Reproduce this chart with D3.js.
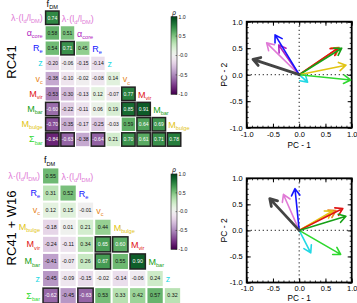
<!DOCTYPE html>
<html>
<head>
<meta charset="utf-8">
<script src="https://cdn.jsdelivr.net/npm/d3@7"></script>
<style>
  body { margin: 0; background: #fff; }
  svg { display: block; font-family: "Liberation Sans", Arial, sans-serif; }
</style>
</head>
<body>
<svg id="chart" width="357" height="303"></svg>
<script>
// ---- data ----
const topVars = ["fDM", "lam", "acore", "Re", "z", "Vc", "Mvir", "Mbar", "Mbulge", "Sbar"];
const topRho = [
  [0.74],
  [0.58, 0.51],
  [0.54, 0.71, 0.45],
  [-0.20, -0.06, -0.15, -0.14],
  [-0.38, -0.10, -0.02, -0.08, 0.14],
  [-0.53, -0.30, -0.13, 0.12, -0.07, 0.77],
  [-0.60, -0.22, -0.11, 0.06, 0.19, 0.85, 0.91],
  [-0.70, -0.35, -0.17, -0.25, -0.03, 0.59, 0.64, 0.69],
  [-0.84, -0.63, -0.38, -0.64, 0.21, 0.70, 0.61, 0.71, 0.78]
];
const topPC1 = [-0.88, -0.62, -0.39, -0.46, 0.16, 0.76, 0.74, 0.81, 0.89, 0.98];
const topPC2 = [0.29, 0.60, 0.56, 0.75, -0.14, 0.51, 0.50, 0.50, 0.18, -0.10];

const botVars = ["fDM", "lam", "Re", "Vc", "Mbulge", "Mvir", "Mbar", "z", "Sbar"];
const botRho = [
  [0.55],
  [0.31, 0.52],
  [0.12, 0.15, -0.01],
  [-0.18, 0.01, 0.21, 0.44],
  [-0.24, -0.11, 0.34, 0.65, 0.60],
  [-0.41, -0.07, 0.26, 0.67, 0.55, 0.90],
  [-0.45, -0.09, -0.15, -0.02, -0.14, -0.06, 0.24],
  [-0.62, -0.45, -0.63, 0.53, 0.33, 0.42, 0.57, 0.32]
];
const botPC1 = [-0.56, -0.30, -0.08, 0.70, 0.63, 0.83, 0.89, 0.22, 0.79];
const botPC2 = [0.61, 0.69, 0.80, 0.38, 0.37, 0.42, 0.27, -0.43, -0.46];

const rhoTicks = [1, 0.5, 0, -0.5, -1];
const rhoTickLabels = ["1.0", "0.5", "-0.0", "-0.5", "-1.0"];
const pcTicks = [-1, -0.5, 0, 0.5, 1];
const sigLevel = 0.6; // boxed + white text above this |rho|

// label pieces: [text, subscript?]
const labelParts = {
  fDM: [["f", 0], ["DM", 1]],
  lam: [["λ·(l", 0], ["d", 1], ["/l", 0], ["DM", 1], [")", 0]],
  acore: [["α", 0], ["core", 1]],
  Re: [["R", 0], ["e", 1]],
  z: [["z", 0]],
  Vc: [["v", 0], ["c", 1]],
  Mvir: [["M", 0], ["vir", 1]],
  Mbar: [["M", 0], ["bar", 1]],
  Mbulge: [["M", 0], ["bulge", 1]],
  Sbar: [["Σ", 0], ["bar", 1]]
};
const varColor = {
  fDM: "#000000", lam: "#e07ad6", acore: "#b024c0", Re: "#1414ff", z: "#22d8e4",
  Vc: "#e8861e", Mvir: "#e01212", Mbar: "#16a016", Mbulge: "#e2c414", Sbar: "#2ed82e"
};
const arrowColor = Object.assign({}, varColor, { fDM: "#444444" });

const svg = d3.select("#chart");
const color = d3.scaleSequential(d3.interpolatePRGn).domain([-1, 1]);

// shared gradient for the colour bars
const grad = svg.append("defs").append("linearGradient")
  .attr("id", "rhoGrad").attr("x1", 0).attr("y1", 1).attr("x2", 0).attr("y2", 0);
grad.selectAll("stop").data(d3.range(0, 1.0001, 0.05)).join("stop")
  .attr("offset", d => d)
  .attr("stop-color", d => color(d * 2 - 1));

function addLabel(g, key, x, y, anchor, size) {
  const t = g.append("text")
    .attr("x", x).attr("y", y)
    .attr("text-anchor", anchor)
    .attr("fill", varColor[key])
    .attr("font-size", size);
  let down = false;
  labelParts[key].forEach(([s, sub]) => {
    const ts = t.append("tspan").text(s);
    if (sub) {
      ts.attr("font-size", size * 0.62);
      if (!down) ts.attr("dy", 2.2);
      down = true;
    } else {
      if (down) ts.attr("dy", -2.2);
      down = false;
    }
  });
  return t;
}

function drawMatrix(vars, rho, o) {
  const n = vars.length;
  const g = svg.append("g");
  const xs = d3.scaleBand().domain(d3.range(n - 1))
    .range([o.x, o.x + (n - 1) * o.px]).paddingInner(0.12).paddingOuter(0.06);
  const ys = d3.scaleBand().domain(d3.range(n))
    .range([o.y, o.y + n * o.py]).paddingInner(0.12).paddingOuter(0.06);

  const cells = [];
  rho.forEach((row, i) => row.forEach((v, j) => cells.push({ r: i + 1, c: j, v })));

  const cell = g.selectAll("g.cell").data(cells).join("g").attr("class", "cell");
  cell.append("rect")
    .attr("x", d => xs(d.c)).attr("y", d => ys(d.r))
    .attr("width", xs.bandwidth()).attr("height", ys.bandwidth())
    .attr("fill", d => color(d.v))
    .attr("stroke", d => Math.abs(d.v) >= sigLevel ? "#222" : "none")
    .attr("stroke-width", 1.5);
  cell.append("text")
    .attr("x", d => xs(d.c) + xs.bandwidth() / 2)
    .attr("y", d => ys(d.r) + ys.bandwidth() / 2 + 1.8)
    .attr("text-anchor", "middle")
    .attr("font-size", o.fs)
    .attr("fill", d => Math.abs(d.v) >= sigLevel ? "#fff" : "#111")
    .text(d => d.v.toFixed(2));

  // row labels on the left
  vars.forEach((k, i) => {
    if (i === 0) return;
    addLabel(g, k, o.x - 2, ys(i) + ys.bandwidth() / 2 + 3, "end", 9);
  });
  // column headers on the diagonal
  vars.forEach((k, i) => {
    if (i > n - 2) return;
    const dy = i === 0 ? 4.5 : 3.8;
    addLabel(g, k, xs(i) + 1, ys(i) + ys.bandwidth() / 2 + dy, "start", 9);
  });
}

function drawColorbar(x, y0, y1) {
  const g = svg.append("g");
  const ys = d3.scaleLinear().domain([-1, 1]).range([y1, y0]);
  g.append("rect").attr("x", x).attr("y", y0).attr("width", 6).attr("height", y1 - y0)
    .attr("fill", "url(#rhoGrad)").attr("stroke", "#222").attr("stroke-width", 0.6);
  g.selectAll("line.tk").data(rhoTicks).join("line")
    .attr("x1", x + 4.5).attr("x2", x + 6)
    .attr("y1", d => ys(d)).attr("y2", d => ys(d))
    .attr("stroke", "#222").attr("stroke-width", 0.5);
  g.selectAll("text.tl").data(rhoTicks).join("text")
    .attr("x", x + 7.5).attr("y", d => ys(d) + 1.8)
    .attr("font-size", 5.2).attr("fill", "#222")
    .text((d, i) => rhoTickLabels[i]);
  g.append("text").attr("x", x + 3).attr("y", y0 - 2).attr("text-anchor", "middle")
    .attr("font-size", 6.5).attr("font-style", "italic").text("ρ");
}

function drawPCA(vars, pc1, pc2, o) {
  const g = svg.append("g");
  const x = d3.scaleLinear().domain([-1, 1]).range([o.x0, o.x1]);
  const y = d3.scaleLinear().domain([-1, 1]).range([o.y1, o.y0]);
  const minor = d3.range(-1, 1.0001, 0.1);
  const fmt = d => d.toFixed(1);

  // dotted zero lines
  g.append("line").attr("x1", x(0)).attr("x2", x(0)).attr("y1", o.y0).attr("y2", o.y1)
    .attr("stroke", "#444").attr("stroke-width", 1.2).attr("stroke-dasharray", "1.2,2.8");
  g.append("line").attr("x1", o.x0).attr("x2", o.x1).attr("y1", y(0)).attr("y2", y(0))
    .attr("stroke", "#444").attr("stroke-width", 1.2).attr("stroke-dasharray", "1.2,2.8");

  // ticks on all four sides, pointing inward
  const axes = [
    [d3.axisBottom(x), `translate(0,${o.y1})`, true, o.xpad],
    [d3.axisTop(x), `translate(0,${o.y0})`, false, 4],
    [d3.axisLeft(y), `translate(${o.x0},0)`, true, 4],
    [d3.axisRight(y), `translate(${o.x1},0)`, false, 4]
  ];
  axes.forEach(([ax, tr, lab, pad]) => {
    const a = g.append("g").attr("transform", tr)
      .call(ax.tickValues(pcTicks).tickSize(-4).tickPadding(pad).tickFormat(lab ? fmt : ""));
    a.select(".domain").remove();
    a.selectAll("line").attr("stroke", "#000").attr("stroke-width", 1);
    a.selectAll("text").attr("font-size", 7.5).attr("fill", "#000")
      .attr("font-family", "Liberation Sans, Arial, sans-serif");
    const m = g.append("g").attr("transform", tr)
      .call(ax.tickValues(minor).tickSize(-2).tickFormat(""));
    m.select(".domain").remove();
    m.selectAll("line").attr("stroke", "#000").attr("stroke-width", 0.8);
  });

  g.append("rect").attr("x", o.x0).attr("y", o.y0)
    .attr("width", o.x1 - o.x0).attr("height", o.y1 - o.y0)
    .attr("fill", "none").attr("stroke", "#000").attr("stroke-width", 1.8);

  g.append("text").attr("x", (o.x0 + o.x1) / 2).attr("y", o.xlab)
    .attr("text-anchor", "middle").attr("font-size", 8.2).text("PC - 1");
  g.append("text")
    .attr("transform", `translate(${o.x0 - 19.5},${(o.y0 + o.y1) / 2}) rotate(-90)`)
    .attr("text-anchor", "middle").attr("font-size", 8.5).text("PC - 2");

  // arrows (f_DM drawn last so it sits on top)
  const order = d3.range(vars.length).slice(1).concat([0]);
  order.forEach(i => {
    const k = vars[i];
    const x2 = x(pc1[i]), y2 = y(pc2[i]);
    const ang = Math.atan2(y2 - y(0), x2 - x(0));
    const L = 8, w = 0.55;
    const sw = k === "fDM" ? 2.8 : 1.6;
    const path = d3.path();
    path.moveTo(x(0), y(0)); path.lineTo(x2, y2);
    path.moveTo(x2 - L * Math.cos(ang - w), y2 - L * Math.sin(ang - w));
    path.lineTo(x2, y2);
    path.lineTo(x2 - L * Math.cos(ang + w), y2 - L * Math.sin(ang + w));
    g.append("path").attr("d", path.toString())
      .attr("fill", "none").attr("stroke", arrowColor[k])
      .attr("stroke-width", sw).attr("stroke-linecap", "round").attr("stroke-linejoin", "round");
  });
}

// ---- panels ----
svg.append("text").attr("transform", "translate(16,62) rotate(-90)")
  .attr("text-anchor", "middle").attr("font-size", 13).text("RC41");
svg.append("text").attr("transform", "translate(16,228) rotate(-90)")
  .attr("text-anchor", "middle").attr("font-size", 13).text("RC41 + W16");

drawMatrix(topVars, topRho, { x: 44.7, y: -5.1, px: 15.22, py: 15.22, fs: 5 });
drawMatrix(botVars, botRho, { x: 42, y: 150.3, px: 17.4, py: 17.1, fs: 5.3 });

drawColorbar(171, 16.7, 94.3);
drawColorbar(171, 174, 249.3);

drawPCA(topVars, topPC1, topPC2, { x0: 246.7, x1: 351.7, y0: 21.7, y1: 127.7, xpad: 4, xlab: 147.5 });
drawPCA(botVars, botPC1, botPC2, { x0: 246.7, x1: 351.7, y0: 178.3, y1: 282.5, xpad: 3, xlab: 300.8 });
</script>
</body>
</html>
